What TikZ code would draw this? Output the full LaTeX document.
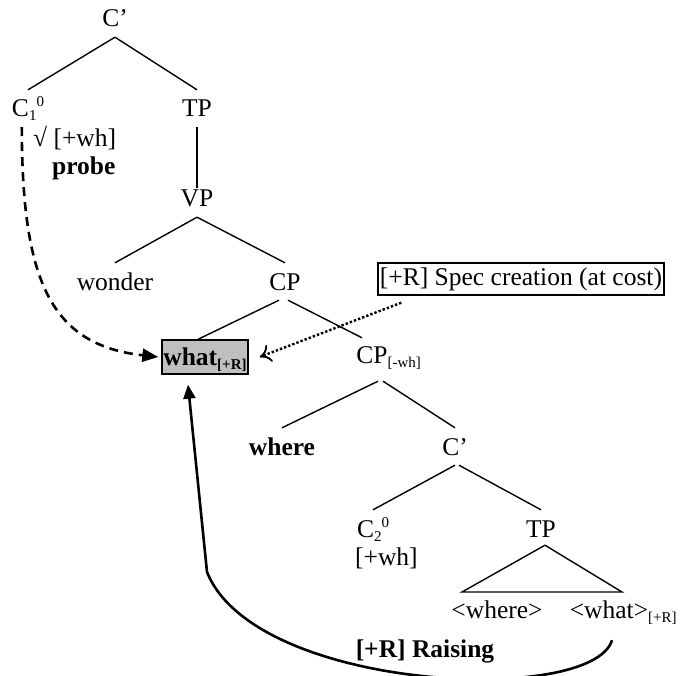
\documentclass[tikz,border=0pt]{standalone}
\usepackage{fontspec}
\setmainfont{Liberation Serif}
\usetikzlibrary{arrows.meta}
% small lowered / raised labels on category symbols
\newcommand\lowsc[1]{\raisebox{-4pt}{\fontsize{15}{15}\selectfont #1}}
\newcommand\highsc[1]{\raisebox{10pt}{\fontsize{15}{15}\selectfont #1}}

\begin{document}
\begin{tikzpicture}[x=1pt,y=-1pt,
  every node/.style={font=\fontsize{25.5}{30}\selectfont, text height=17pt,
    text depth=0pt, inner xsep=2pt, inner ysep=10pt},
  lbl/.style={anchor=base},
  lblw/.style={anchor=base west},
  branch/.style={line width=1.4pt},
  shaded/.style={draw, line width=1.4pt, fill=black!25, minimum width=86pt,
    minimum height=34pt, inner sep=0pt},
  framed/.style={draw, line width=1.4pt, text height=18pt, text depth=5pt,
    inner xsep=2pt, inner ysep=4.5pt},
  probeline/.style={-{Triangle[length=16pt,width=13pt]}, line width=2.6pt,
    dash pattern=on 9pt off 6pt},
  specline/.style={-{To[length=11pt,width=18pt,line width=1.8pt]},
    line width=2.4pt, dash pattern=on 2.4pt off 2pt},
  raiseline/.style={-{Triangle[length=14pt,width=12pt]}, line width=2.6pt}]

\useasboundingbox (0,0) rectangle (682,676);

% upper clause
\node[lbl] (cbar) at (115,27) {C’};
\node[lbl] (c1) at (28,117) {C\lowsc{1}\highsc{0}};
\node[lbl] (tp1) at (197,117) {TP};
\node[lblw] (feat1) at (31,147) {√ [+wh]};
\node[lblw] (probe) at (50,175) {\bfseries probe};
\node[lbl] (vp) at (197,207) {VP};
\node[lbl] (wonder) at (115,290) {wonder};
\node[lbl] (cp) at (285,290) {CP};
\node[shaded] (what) at (205,357) {\bfseries what\lowsc{[+R]}};
\node[framed] (spec) at (521,279) {[+R] Spec creation (at cost)};

% embedded clause
\node[lbl] (cpwh) at (372,363) {CP\rlap{\lowsc{[-wh]}}};
\node[lbl] (where) at (282,455) {\bfseries where};
\node[lbl] (cbar2) at (455,455) {C’};
\node[lbl] (c2) at (373,537) {C\lowsc{2}\highsc{0}};
\node[lblw] (feat2) at (353,565) {[+wh]};
\node[lbl] (tp2) at (541,537) {TP};
\node[lbl] (wheret) at (497,618) {<where>};
\node[lbl] (whatt) at (609,618) {<what>\rlap{\lowsc{[+R]}}};
\node[lbl] (raising) at (425,657) {\bfseries [+R] Raising};

% branches
\draw[branch] (cbar.south) -- (c1.north);
\draw[branch] (cbar.south) -- (tp1.north);
\draw[branch] (tp1.south) -- ([yshift=-8pt]vp.north);
\draw[branch] (vp.south) -- (wonder.north);
\draw[branch] (vp.south) -- (cp.north);
\draw[branch] ([xshift=-6pt]cp.south) -- ([xshift=-7pt]what.north);
\draw[branch] ([xshift=3pt]cp.south) -- ([xshift=-10pt,yshift=-2pt]cpwh.north);
\draw[branch] ([xshift=6pt,yshift=-8pt]cpwh.south) -- (where.north);
\draw[branch] ([xshift=11pt,yshift=-8pt]cpwh.south) -- (cbar2.north);
\draw[branch] (cbar2.south) -- (c2.north);
\draw[branch] ([xshift=4pt]cbar2.south) -- (tp2.north);

% triangle over the lower TP
\coordinate (triL) at (462,592);
\coordinate (triR) at (622,592);
\draw[branch, line join=miter] ([xshift=4pt,yshift=2pt]tp2.south) -- (triR) -- (triL) -- cycle;

% probe relation
\draw[probeline] ([xshift=12pt]c1.south west) .. controls (22,280) and (50,345) .. ([xshift=-3pt]what.west);

% spec creation
\draw[specline] ([xshift=24pt,yshift=-7pt]spec.south west) -- ([xshift=11pt]what.east);

% raising
\draw[raiseline] ([xshift=3pt,yshift=-12pt]whatt.south) .. controls (592,706) and (255,692) .. (207,572) -- ([xshift=-17pt,yshift=-10pt]what.south);

\end{tikzpicture}
\end{document}
